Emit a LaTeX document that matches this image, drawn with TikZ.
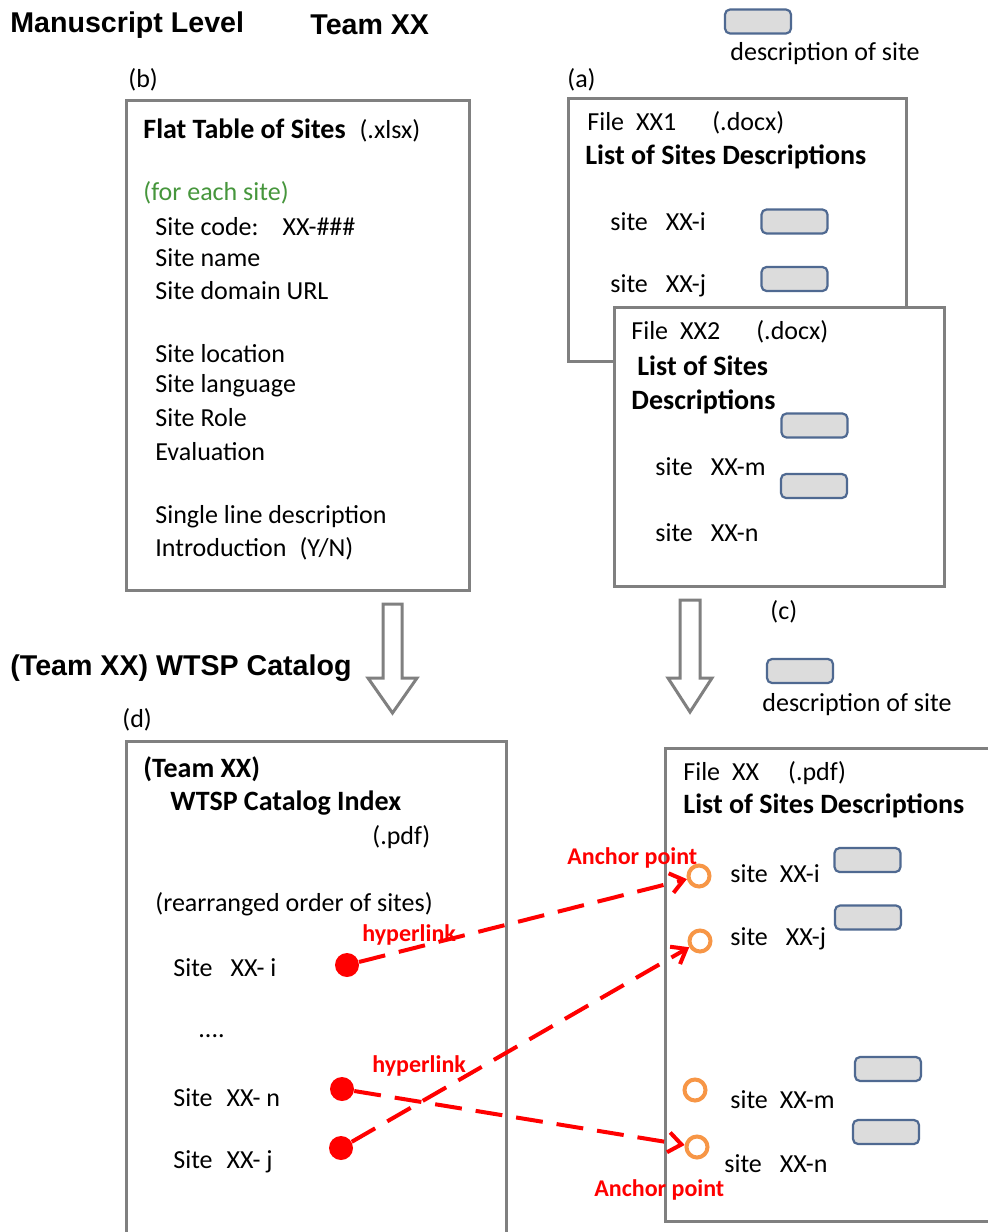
\documentclass[tikz,border=0pt]{standalone}
\usepackage{fontspec}
\setmainfont{Carlito}
\newfontfamily\hdrfont{Liberation Sans}
\usetikzlibrary{arrows.meta}
\definecolor{boxgray}{RGB}{128,128,128}
\definecolor{descfill}{RGB}{220,220,220}
\definecolor{descedge}{RGB}{79,105,145}
\definecolor{linkred}{RGB}{255,0,0}
\definecolor{ringorange}{RGB}{247,150,70}
\definecolor{sitegreen}{RGB}{70,150,60}
\begin{document}
\begin{tikzpicture}[x=0.5pt,y=-0.5pt,
 frame/.style={draw=boxgray, line width=1.5pt, fill=white, anchor=north west, inner sep=0pt},
 desc/.style={draw=descedge, fill=descfill, rounded corners=2.5pt, line width=1.1pt, minimum width=33pt, minimum height=12pt, inner sep=0pt},
 txt/.style={anchor=west, inner sep=0pt, font=\fontsize{13}{15}\selectfont},
 ttl/.style={anchor=west, inner sep=0pt, font=\fontsize{14}{16}\selectfont\bfseries},
 hdr/.style={anchor=west, inner sep=0pt, font=\hdrfont\fontsize{14.3}{16}\selectfont\bfseries},
 redlbl/.style={anchor=west, inner sep=0pt, text=linkred, font=\fontsize{12}{14}\selectfont\bfseries},
 hollow/.style={draw=boxgray, fill=white, line width=1.5pt, line join=miter},
 src/.style={circle, fill=linkred, minimum size=12pt, inner sep=0pt},
 anch/.style={circle, draw=ringorange, fill=white, line width=2pt, minimum size=10.5pt, inner sep=0pt},
 link/.style={draw=linkred, line width=2pt, dash pattern=on 13.5pt off 7pt, -{Straight Barb[length=6.5pt,width=10pt]}},
]
\useasboundingbox[fill=white] (0,0) rectangle (988,1232);

% headers
\node[hdr] (h1) at (10,25) {Manuscript Level};
\node[hdr] (h2) at (310,25) {Team XX};
\node[hdr] (h3) at (10,668) {(Team XX) WTSP Catalog};

% legends
\node[desc] (leg1) at (758,21.5) {};
\node[txt] (leg1t) at (730,54) {description of site};
\node[desc] (leg2) at (800,671) {};
\node[txt] (leg2t) at (762,705) {description of site};

% tags
\node[txt] (tb) at (128,80) {(b)};
\node[txt] (ta) at (567,80) {(a)};
\node[txt] (tc) at (770,612) {(c)};
\node[txt] (td) at (122,720) {(d)};

% box b
\node[frame, minimum width=171.5pt, minimum height=245pt] (boxb) at (125,99) {};
\node[txt] at (143,130) {\fontsize{14}{16}\selectfont\bfseries Flat Table of Sites\hspace{7pt}\mdseries\fontsize{13}{15}\selectfont(.xlsx)};
\node[txt, text=sitegreen] at (143,193) {(for each site)};
\node[txt] at (155,227) {Site code:\hspace{12pt}XX-\#\#\#};
\node[txt] at (155,258) {Site name};
\node[txt] at (155,291) {Site domain URL};
\node[txt] at (155,354) {Site location};
\node[txt] at (155,386) {Site language};
\node[txt] at (155,418) {Site Role};
\node[txt] at (155,452) {Evaluation};
\node[txt] at (155,517) {Single line description};
\node[txt] at (155,549) {Introduction\hspace{6.5pt}(Y/N)};

% box a1
\node[frame, minimum width=169pt, minimum height=131.5pt] (boxa1) at (567,97) {};
\node[txt] at (587,123) {File\hspace{6pt}XX1\hspace{18pt}(.docx)};
\node[ttl] at (585,157) {List of Sites Descriptions};
\node[txt] at (610,222) {site\hspace{9pt}XX-i};
\node[desc] (a1i) at (794.5,221.5) {};
\node[txt] at (610,286) {site\hspace{9pt}XX-j};
\node[desc] (a1j) at (794.5,279) {};

% box a2
\node[frame, minimum width=165pt, minimum height=139.5pt] (boxa2) at (613,306) {};
\node[txt] at (631,332) {File\hspace{6pt}XX2\hspace{18pt}(.docx)};
\node[ttl] at (637,366) {List of Sites};
\node[ttl] at (631,402) {Descriptions};
\node[desc] (a2m) at (814.5,425.5) {};
\node[txt] at (655,467) {site\hspace{9pt}XX-m};
\node[desc] (a2n) at (814,486) {};
\node[txt] at (655,533) {site\hspace{9pt}XX-n};

% hollow arrows
\draw[hollow] (383,604) -- (402,604) -- (402,678) -- (417,678) -- (392.5,713) -- (368,678) -- (383,678) -- cycle;
\draw[hollow] (680,600) -- (700,600) -- (700,678) -- (712,678) -- (690,712) -- (668,678) -- (680,678) -- cycle;

% box d
\node[frame, minimum width=190pt, minimum height=260pt] (boxd) at (125,740) {};
\node[ttl] at (143,769) {(Team XX)};
\node[ttl] at (170,803) {WTSP Catalog Index};
\node[txt] at (372,837) {(.pdf)};
\node[txt] at (155,904) {(rearranged order of sites)};
\node[txt] at (173,968) {Site\hspace{9pt}XX- i};
\node[txt] at (198,1036) {....};
\node[txt] at (173,1098) {Site\hspace{7pt}XX- n};
\node[txt] at (173,1162) {Site\hspace{7pt}XX- j};

% right box
\node[frame, minimum width=180pt, minimum height=236.5pt] (boxr) at (664,747) {};
\node[txt] at (683,773) {File\hspace{6pt}XX\hspace{14.5pt}(.pdf)};
\node[ttl] at (683,806) {List of Sites Descriptions};
\node[txt] at (730,874) {site\hspace{6pt}XX-i};
\node[desc] (ri) at (867.5,860) {};
\node[txt] at (730,939) {site\hspace{9pt}XX-j};
\node[desc] (rj) at (868,917.5) {};
\node[txt] at (730,1100) {site\hspace{6pt}XX-m};
\node[desc] (rm) at (888,1069) {};
\node[txt] at (724,1164) {site\hspace{9pt}XX-n};
\node[desc] (rn) at (886,1132) {};

% hyperlinks
\node[src] (si) at (347,965) {};
\node[src] (sn) at (342,1089) {};
\node[src] (sj) at (341,1148) {};
\node[anch] (ai) at (699,876) {};
\node[anch] (aj) at (700,941) {};
\node[anch] (am) at (695,1090) {};
\node[anch] (an) at (697,1147) {};
\draw[link] (si) -- (ai);
\draw[link] (sn) -- (an);
\draw[link] (sj) -- (aj);

\node[redlbl] (hl1) at (362,935) {hyperlink};
\node[redlbl] (hl2) at (372,1066) {hyperlink};
\node[redlbl] (ap1) at (567,858) {Anchor point};
\node[redlbl] (ap2) at (594,1190) {Anchor point};
\end{tikzpicture}
\end{document}
